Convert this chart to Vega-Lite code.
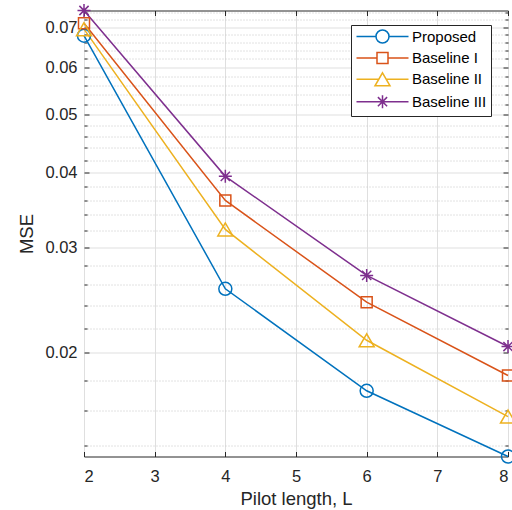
{
  "$schema": "https://vega.github.io/schema/vega-lite/v6.json",
  "width": 424,
  "height": 446,
  "autosize": {"type": "none"},
  "padding": {"left": 84, "top": 10.5, "right": 4, "bottom": 53.5},
  "background": "white",
  "config": {
    "font": "Liberation Sans",
    "view": {"stroke": "#262626", "strokeWidth": 1},
    "axis": {
      "labelFont": "Liberation Sans",
      "titleFont": "Liberation Sans",
      "labelColor": "#262626",
      "titleColor": "#262626",
      "labelFontSize": 16.5,
      "titleFontSize": 18.5,
      "titleFontWeight": "normal",
      "domain": false,
      "tickColor": "#262626",
      "tickWidth": 1,
      "gridColor": "#dfdfdf",
      "gridOpacity": 1,
      "gridWidth": 1
    }
  },
  "data": {
    "values": [
      {"series": "Proposed", "L": 2, "mse": 0.06776},
      {"series": "Proposed", "L": 4, "mse": 0.02559},
      {"series": "Proposed", "L": 6, "mse": 0.01728},
      {"series": "Proposed", "L": 8, "mse": 0.01342},
      {"series": "Baseline I", "L": 2, "mse": 0.07108},
      {"series": "Baseline I", "L": 4, "mse": 0.03595},
      {"series": "Baseline I", "L": 6, "mse": 0.0243},
      {"series": "Baseline I", "L": 8, "mse": 0.01833},
      {"series": "Baseline II", "L": 2, "mse": 0.06949},
      {"series": "Baseline II", "L": 4, "mse": 0.03215},
      {"series": "Baseline II", "L": 6, "mse": 0.02099},
      {"series": "Baseline II", "L": 8, "mse": 0.01565},
      {"series": "Baseline III", "L": 2, "mse": 0.07466},
      {"series": "Baseline III", "L": 4, "mse": 0.03944},
      {"series": "Baseline III", "L": 6, "mse": 0.02694},
      {"series": "Baseline III", "L": 8, "mse": 0.02049}
    ]
  },
  "layer": [
    {
      "mark": {"type": "line", "opacity": 0},
      "encoding": {
        "x": {"field": "L", "type": "quantitative", "scale": {"domain": [2, 8], "nice": false, "zero": false}, "axis": null},
        "y": {
          "field": "mse", "type": "quantitative",
          "scale": {"type": "log", "domain": [0.01342, 0.07466], "nice": false, "zero": false},
          "axis": {
            "orient": "left",
            "values": [0.014, 0.016, 0.018, 0.022, 0.024, 0.026, 0.028, 0.032, 0.034, 0.036, 0.038, 0.042, 0.044, 0.046, 0.048, 0.052, 0.054, 0.056, 0.058, 0.062, 0.064, 0.066, 0.068, 0.072, 0.074],
            "grid": true, "gridDash": [1, 2], "gridColor": "#c4c4c4",
            "labels": false, "ticks": true, "tickSize": -3, "title": null, "domain": false
          }
        },
        "detail": {"field": "series"}
      }
    },
    {
      "mark": {"type": "line", "strokeWidth": 1.5},
      "encoding": {
        "x": {
          "field": "L", "type": "quantitative",
          "axis": {"orient": "bottom", "values": [2, 3, 4, 5, 6, 7, 8], "format": "d", "grid": true, "tickSize": -5, "labelPadding": 17, "title": "Pilot length, L", "titlePadding": 4}
        },
        "y": {
          "field": "mse", "type": "quantitative",
          "axis": {"orient": "left", "values": [0.02, 0.03, 0.04, 0.05, 0.06, 0.07], "format": ".2f", "grid": true, "tickSize": -5, "labelPadding": 12, "title": "MSE", "titlePadding": 8}
        },
        "color": {
          "field": "series", "type": "nominal",
          "scale": {"domain": ["Proposed", "Baseline I", "Baseline II", "Baseline III"], "range": ["#0072BD", "#D95319", "#EDB120", "#7E2F8E"]},
          "legend": {
            "title": null,
            "orient": "none",
            "legendX": 267,
            "legendY": 14.5,
            "fillColor": "white",
            "strokeColor": "#262626",
            "padding": 4,
            "labelFont": "Liberation Sans",
            "labelFontSize": 15,
            "labelColor": "black",
            "symbolSize": 100,
            "symbolStrokeWidth": 1.5,
            "symbolOffset": 20,
            "labelOffset": 22,
            "rowPadding": 3.4,
            "encoding": {
              "symbols": {
                "shape": {"value": {"expr": "datum.value === 'Proposed' ? 'M-5.2,0H-1.3M1.3,0H5.2M-1.3,0A1.3,1.3,0,1,0,1.3,0A1.3,1.3,0,1,0,-1.3,0' : datum.value === 'Baseline I' ? 'M-5.2,0H-1.1M1.1,0H5.2M-1.1,-1.1H1.1V1.1H-1.1Z' : datum.value === 'Baseline II' ? 'M-5.2,0H-0.75M0.75,0H5.2M0,-1.3L1.5,1.3H-1.5Z' : 'M-5.2,0H5.2M0,-1.3V1.3M-0.92,-0.92L0.92,0.92M-0.92,0.92L0.92,-0.92'"}},
                "fill": {"value": "transparent"}
              }
            }
          }
        }
      }
    },
    {
      "transform": [{"filter": {"field": "series", "equal": "Proposed"}}],
      "mark": {"type": "point", "filled": false, "strokeWidth": 1.5, "opacity": 1, "shape": "circle", "size": 169, "color": "#0072BD"},
      "encoding": {
        "x": {
          "field": "L", "type": "quantitative",
          "axis": {"orient": "top", "values": [2, 3, 4, 5, 6, 7, 8], "labels": false, "grid": false, "tickSize": -5, "title": null}
        },
        "y": {
          "field": "mse", "type": "quantitative",
          "axis": {"orient": "right", "values": [0.02, 0.03, 0.04, 0.05, 0.06, 0.07], "labels": false, "grid": false, "tickSize": -5, "title": null}
        }
      }
    },
    {
      "transform": [{"filter": {"field": "series", "equal": "Baseline I"}}],
      "mark": {"type": "point", "filled": false, "strokeWidth": 1.5, "opacity": 1, "shape": "square", "size": 121, "color": "#D95319"},
      "encoding": {
        "x": {"field": "L", "type": "quantitative", "axis": null},
        "y": {"field": "mse", "type": "quantitative", "axis": null}
      }
    },
    {
      "transform": [{"filter": {"field": "series", "equal": "Baseline II"}}],
      "mark": {"type": "point", "filled": false, "strokeWidth": 1.5, "opacity": 1, "shape": "triangle-up", "size": 225, "color": "#EDB120"},
      "encoding": {
        "x": {"field": "L", "type": "quantitative", "axis": null},
        "y": {"field": "mse", "type": "quantitative", "axis": null}
      }
    },
    {
      "transform": [{"filter": {"field": "series", "equal": "Baseline III"}}],
      "mark": {"type": "point", "filled": false, "strokeWidth": 1.5, "opacity": 1, "shape": "M-1,0H1M0,-1V1M-0.71,-0.71L0.71,0.71M-0.71,0.71L0.71,-0.71", "size": 169, "color": "#7E2F8E"},
      "encoding": {
        "x": {"field": "L", "type": "quantitative", "axis": null},
        "y": {
          "field": "mse", "type": "quantitative",
          "axis": {
            "orient": "right",
            "values": [0.014, 0.016, 0.018, 0.022, 0.024, 0.026, 0.028, 0.032, 0.034, 0.036, 0.038, 0.042, 0.044, 0.046, 0.048, 0.052, 0.054, 0.056, 0.058, 0.062, 0.064, 0.066, 0.068, 0.072, 0.074],
            "grid": false, "labels": false, "ticks": true, "tickSize": -3, "title": null
          }
        }
      }
    }
  ],
  "resolve": {"axis": {"x": "independent", "y": "independent"}}
}
